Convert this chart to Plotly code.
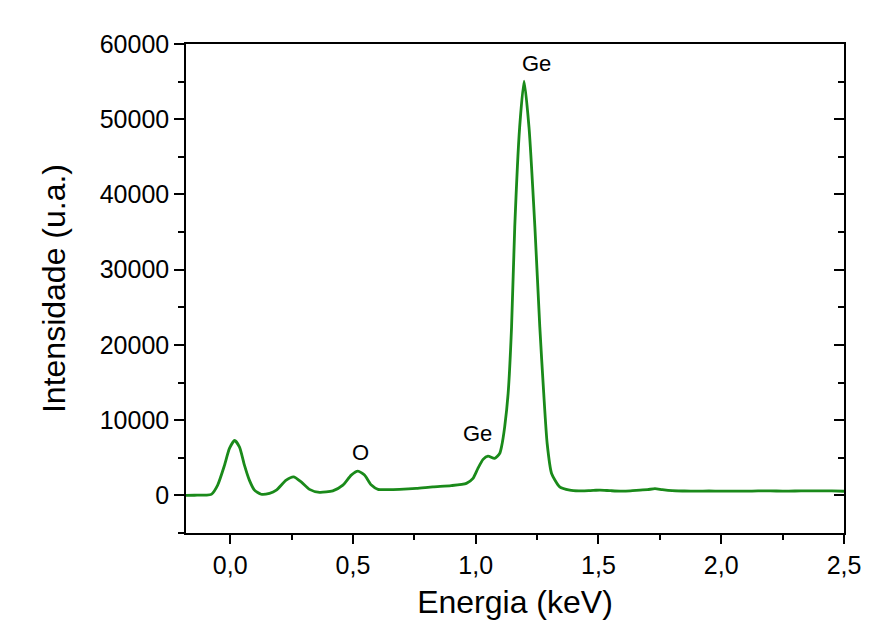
import plotly.graph_objects as go

# EDS spectrum: energy (keV) and intensity (a.u.)
energia = [
    -0.18, -0.146, -0.100, -0.077, -0.051, -0.023, -0.003, 0.018, 0.038, 0.058,
    0.078, 0.099, 0.126, 0.160, 0.188, 0.228, 0.258, 0.289, 0.323, 0.364,
    0.418, 0.459, 0.493, 0.520, 0.547, 0.575, 0.602, 0.640, 0.690, 0.758,
    0.826, 0.900, 0.962, 0.989, 1.009, 1.030, 1.050, 1.077, 1.098, 1.105,
    1.118, 1.132, 1.146, 1.159, 1.179, 1.197, 1.217, 1.241, 1.261, 1.277,
    1.291, 1.309, 1.342, 1.383, 1.420, 1.460, 1.490, 1.506, 1.550, 1.588,
    1.630, 1.669, 1.700, 1.730, 1.760, 1.800, 1.850, 1.900, 1.950, 2.000,
    2.050, 2.100, 2.150, 2.200, 2.250, 2.300, 2.350, 2.400, 2.450, 2.500,
]
intensidade = [
    0, 20, 40, 130, 1370, 4020, 6240, 7300, 6420, 4020,
    2030, 700, 150, 270, 700, 2030, 2470, 1800, 800, 400,
    610, 1370, 2700, 3230, 2700, 1370, 800, 760, 800, 930,
    1140, 1300, 1600, 2260, 3590, 4780, 5220, 4910, 5600, 6450,
    9110, 13550, 22390, 35670, 48950, 55060, 48950, 35670, 22390, 13550,
    6900, 2920, 1140, 700, 600, 620, 680, 700, 620, 570,
    600, 700, 760, 900, 760, 620, 580, 560, 580, 570,
    560, 560, 590, 600, 570, 580, 600, 610, 590, 550,
]

# Element labels placed over the peaks
rotulos = ["Ge", "Ge", "O"]
rotulo_x = [1.249, 1.008, 0.530]
rotulo_y = [57450, 8230, 5660]

x_ticks = [0.0, 0.5, 1.0, 1.5, 2.0, 2.5]
x_ticktext = ["0,0", "0,5", "1,0", "1,5", "2,0", "2,5"]
y_ticks = [0, 10000, 20000, 30000, 40000, 50000, 60000]
y_ticktext = [str(v) for v in y_ticks]

FONT = "Arial, Liberation Sans, sans-serif"
GREEN = "#1a8a1a"

fig = go.Figure()
fig.add_trace(go.Scatter(
    x=energia, y=intensidade, mode="lines",
    line=dict(color=GREEN, width=2.8, shape="spline", smoothing=0.6),
    showlegend=False, hoverinfo="x+y",
))
# companion trace for the right-hand tick axis
fig.add_trace(go.Scatter(x=[None], y=[None], yaxis="y2", showlegend=False,
                         hoverinfo="skip"))

for txt, xx, yy in zip(rotulos, rotulo_x, rotulo_y):
    fig.add_annotation(x=xx, y=yy, text=txt, showarrow=False,
                       font=dict(family=FONT, size=22, color="black"))

fig.update_layout(
    width=892, height=620,
    margin=dict(l=186, r=48, t=44, b=87),
    paper_bgcolor="white", plot_bgcolor="white",
    font=dict(family=FONT, color="black"),
    xaxis=dict(
        range=[-0.18, 2.5], tickvals=x_ticks, ticktext=x_ticktext,
        ticks="outside", ticklen=9, tickwidth=1.5, tickcolor="black",
        minor=dict(dtick=0.25, tick0=0, ticks="outside", ticklen=5,
                   tickwidth=1.5, tickcolor="black"),
        showline=True, linecolor="black", linewidth=1.5, mirror=True,
        showgrid=False, zeroline=False, automargin=False,
        tickfont=dict(size=25),
        title=dict(text="Energia (keV)", font=dict(size=32), standoff=20),
    ),
    yaxis=dict(
        range=[-5000, 60000], tickvals=y_ticks, ticktext=y_ticktext,
        ticks="outside", ticklen=10, tickwidth=1.5, tickcolor="black",
        minor=dict(dtick=5000, tick0=0, ticks="outside", ticklen=6,
                   tickwidth=1.5, tickcolor="black"),
        showline=True, linecolor="black", linewidth=1.5,
        showgrid=False, zeroline=False, automargin=False,
        tickfont=dict(size=25),
        title=dict(text="Intensidade (u.a.)", font=dict(size=32), standoff=25),
    ),
    yaxis2=dict(
        overlaying="y", side="right", range=[-5000, 60000],
        tickvals=y_ticks, showticklabels=False,
        ticks="inside", ticklen=10, tickwidth=1.5, tickcolor="black",
        minor=dict(dtick=5000, tick0=0, ticks="inside", ticklen=6,
                   tickwidth=1.5, tickcolor="black"),
        showline=True, linecolor="black", linewidth=1.5,
        showgrid=False, zeroline=False, automargin=False,
    ),
)

fig.write_html("out.html")
